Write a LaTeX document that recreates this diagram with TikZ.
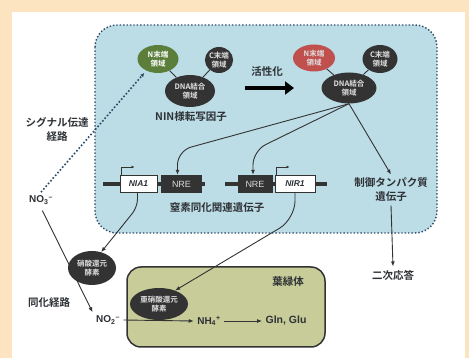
\documentclass[tikz,border=0pt]{standalone}
\usepackage{fontspec}
\setmainfont{Liberation Sans}
\newfontfamily\jp{Noto Sans CJK JP}[BoldFont={Noto Sans CJK JP Bold}]
\usetikzlibrary{positioning,arrows.meta,shapes.geometric}
\definecolor{framebg}{HTML}{FCE4C0}
\definecolor{nucbg}{HTML}{BCDCE6}
\definecolor{nucline}{HTML}{2C4A66}
\definecolor{chlbg}{HTML}{C7CC98}
\definecolor{ngreen}{HTML}{5B7E3A}
\definecolor{nred}{HTML}{C0504D}
\definecolor{dkgrey}{HTML}{333333}
\definecolor{txtgrey}{HTML}{2E3236}
\begin{document}
\begin{tikzpicture}[x=1pt,y=-1pt,
    dom/.style={ellipse,fill=dkgrey,inner sep=0pt,align=center,text=white!88!black,
      font=\jp\bfseries\fontsize{7.5}{8.5}\selectfont},
    lbl/.style={text=txtgrey,align=center,font=\jp\bfseries\fontsize{10.5}{14}\selectfont},
    chem/.style={text=txtgrey,font=\bfseries\fontsize{10}{12}\selectfont},
    gene/.style={draw=dkgrey,line width=1pt,fill=white,minimum height=17pt,inner sep=0pt,
      text=txtgrey,font=\bfseries\itshape\fontsize{8.5}{10}\selectfont},
    nrebox/.style={fill=dkgrey,minimum height=18pt,inner sep=0pt,text=white!85!black,
      font=\fontsize{9}{10}\selectfont},
    arr/.style={-{Latex[length=5pt,width=4pt]},line width=0.9pt,draw=dkgrey}]
    %% Frame
    \fill[framebg] (0,0) rectangle (469,358);
    \fill[white] (12,12) rectangle (465,358);
    \useasboundingbox (0,0) rectangle (469,358);
    %% Nucleus and chloroplast
    \draw[fill=nucbg,draw=nucline,line width=1.4pt,dotted,rounded corners=22pt] (95,25) rectangle (437,233);
    \draw[fill=chlbg,draw=dkgrey,line width=1.5pt,rounded corners=14pt] (127,267) rectangle (325,347);
    %% NIN-like factor, inactive
    \node[dom,fill=ngreen,text=white,minimum width=41pt,minimum height=28pt] (n1) at (158,59) {N末端\\領域};
    \node[dom,minimum width=28pt,minimum height=26pt] (c1) at (219,60) {C末端\\領域};
    \node[dom,minimum width=50pt,minimum height=32pt] (d1) at (190,91) {DNA結合\\領域};
    \draw[dkgrey,line width=0.9pt] (n1) -- (d1) (c1) -- (d1);
    \node[lbl] (nin) at (191,117) {NIN様転写因子};
    %% Activation
    \node[lbl] (act) at (267,72) {活性化};
    \coordinate (actL) at (245,88);
    \coordinate (actR) at (294,88);
    \draw[-{Triangle[length=9pt,width=13pt]},line width=4.5pt] (actL) -- (actR);
    %% NIN-like factor, active
    \node[dom,fill=nred,minimum width=42pt,minimum height=27pt] (n2) at (314,58) {N末端\\領域};
    \node[dom,minimum width=35pt,minimum height=28pt] (c2) at (380,59) {C末端\\領域};
    \node[dom,minimum width=55pt,minimum height=31pt] (d2) at (349,88) {DNA結合\\領域};
    \draw[dkgrey,line width=0.9pt] (n2) -- (d2) (c2) -- (d2);
    %% Genes
    \coordinate (g1L) at (103,184);
    \coordinate (g1R) at (205,184);
    \coordinate (g2L) at (225,184);
    \coordinate (g2R) at (327,184);
    \draw[dkgrey,line width=4.5pt] (g1L) -- (g1R) (g2L) -- (g2R);
    \node[gene,minimum width=37pt] (nia) at (138.5,184) {NIA1};
    \node[nrebox,minimum width=41pt] (nre1) at (181.5,184) {NRE};
    \node[nrebox,minimum width=35pt] (nre2) at (255,184) {NRE};
    \node[gene,minimum width=40pt] (nir) at (295,184) {NIR1};
    \draw[-{Latex[length=3pt,width=3pt]},line width=0.8pt,dkgrey] ([xshift=2pt]nia.north west) -- ++(0,-8) -- ++(13,0);
    \draw[-{Latex[length=3pt,width=3pt]},line width=0.8pt,dkgrey] ([xshift=2pt]nir.north west) -- ++(0,-8) -- ++(13,0);
    \node[lbl] (nlab) at (217,208) {窒素同化関連遺伝子};
    \node[lbl] (reg) at (391,190) {制御タンパク質\\遺伝子};
    \node[lbl] (resp) at (393,275) {二次応答};
    %% Regulation
    \draw[arr,rounded corners=14pt] (d2.south) -- ([shift={(-4,-24)}]nre1.north) -- ([xshift=-4pt]nre1.north);
    \draw[arr,rounded corners=14pt] (d2.south) -- ([shift={(-2,-24)}]nre2.north) -- ([xshift=-2pt]nre2.north);
    \draw[arr] (d2.south) -- (reg.north);
    \draw[arr] (reg.south) -- (resp.north);
    %% Nitrate
    \node[chem] (no3) at (41,200) {NO\textsubscript{3}\textsuperscript{--}};
    \node[lbl] (sig) at (57,129) {シグナル伝達\\経路};
    \node[lbl] (assim) at (49,303) {同化経路};
    \draw[-{Latex[length=4pt,width=4pt]},nucline,line width=1.6pt,dotted,shorten >=3pt] (no3.north) -- (n1.225);
    %% Enzymes
    \node[dom,minimum width=48pt,minimum height=34pt] (nr) at (92,268) {硝酸還元\\酵素};
    \node[dom,minimum width=58pt,minimum height=32pt] (nitr) at (159,304) {亜硝酸還元\\酵素};
    \draw[arr,rounded corners=8pt] ([xshift=-1pt]nia.south) -- ++(0,14) -- (nr.60);
    \draw[arr,rounded corners=18pt] (nir.south) -- ++(0,26) -- (nitr.40);
    %% Chloroplast reactions
    \node[chem] (no2) at (108,320) {NO\textsubscript{2}\textsuperscript{--}};
    \node[chem] (nh4) at (209,321) {NH\textsubscript{4}\textsuperscript{+}};
    \node[chem,font=\bfseries\fontsize{10.5}{12}\selectfont] (gln) at (286,321) {Gln, Glu};
    \node[lbl] (chl) at (288,282) {葉緑体};
    \draw[arr,shorten <=3pt] (no3.south) -- (no2.north west);
    \draw[arr] (no2.east) -- (nh4.west);
    \draw[arr] (nh4.east) -- (gln.west);
\end{tikzpicture}
\end{document}
